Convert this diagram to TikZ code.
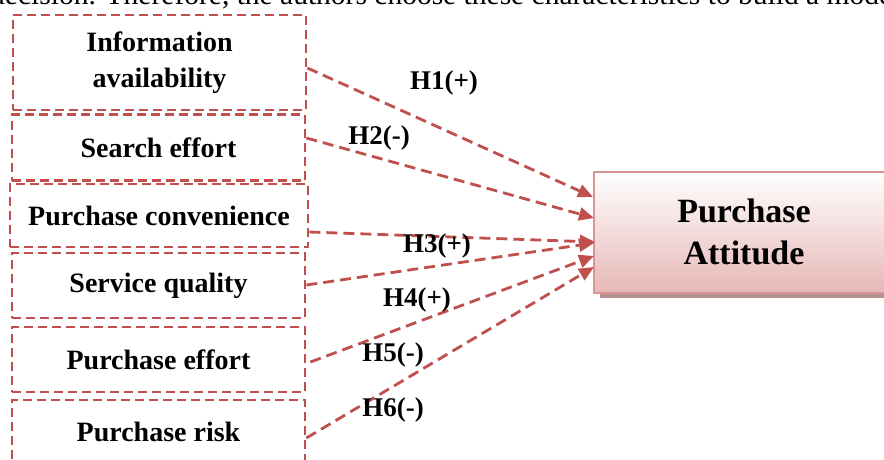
\documentclass[tikz,border=0pt]{standalone}
\usepackage{fontspec}
\setmainfont{Liberation Serif}
\usetikzlibrary{arrows.meta}
\definecolor{dred}{HTML}{C0504D}
\definecolor{pborder}{HTML}{D99594}
\definecolor{pbottom}{HTML}{E6B8B7}
\definecolor{pmid}{HTML}{F4E1E1}
\definecolor{pshadow}{HTML}{B39392}
\tikzset{
  varbox/.style={draw=dred, line width=2.8pt, dash pattern=on 9pt off 5pt,
    inner sep=0pt, align=center, font=\fontsize{28}{36}\selectfont\bfseries},
  hyparrow/.style={draw=dred, line width=2.8pt, dash pattern=on 11pt off 6pt,
    -{Triangle[length=15pt,width=13pt]}, fill=none},
  hlabel/.style={font=\fontsize{27}{32}\selectfont\bfseries, inner sep=0pt},
}
\begin{document}
\begin{tikzpicture}[x=1pt,y=-1pt]
\useasboundingbox (0,0) rectangle (884,459);
% cut-off text line at top
\node[anchor=base west, inner sep=0pt, font=\fontsize{29.5}{32}\selectfont] (toptext) at (-10,4)
  {decision. Therefore, the authors choose these characteristics to build a model};
% independent variables
\node[varbox, minimum width=293pt, minimum height=95pt] (ia) at (159.5,62.5) {Information\\availability};
\node[varbox, minimum width=293pt, minimum height=66pt] (se) at (158.5,147.5) {Search effort};
\node[varbox, minimum width=298pt, minimum height=63pt] (pc) at (159,215.5) {Purchase convenience};
\node[varbox, minimum width=293pt, minimum height=65pt] (sq) at (158.5,285.5) {Service quality};
\node[varbox, minimum width=293pt, minimum height=65pt] (pe) at (158.5,359.5) {Purchase effort};
\node[varbox, minimum width=293pt, minimum height=64pt] (pr) at (158.5,432) {Purchase risk};
% dependent variable
\fill[pshadow] (600,176) rectangle (895,298);
\shade[top color=white, middle color=pmid, bottom color=pbottom] (594,172) rectangle (890,293);
\draw[pborder, line width=2.8pt] (594,172) rectangle (890,293);
\node[inner sep=0pt, align=center, font=\fontsize{34}{42}\selectfont\bfseries] (pa) at (744,232) {Purchase\\Attitude};
% arrow targets
\coordinate (t1) at (593,197);
\coordinate (t2) at (594,218);
\coordinate (t3) at (595,242);
\coordinate (t4) at (594,243);
\coordinate (t5) at (594,256);
\coordinate (t6) at (594,267);
\draw[hyparrow] ([yshift=-5.5pt]ia.east) -- (t1);
\draw[hyparrow] ([yshift=9.5pt]se.east) -- (t2);
\draw[hyparrow] ([yshift=-16.5pt]pc.east) -- (t3);
\draw[hyparrow] ([yshift=0.5pt]sq.east) -- (t4);
\draw[hyparrow] ([xshift=4pt,yshift=-2.5pt]pe.east) -- (t5);
\draw[hyparrow] ([yshift=-6pt]pr.east) -- (t6);
% labels
\node[hlabel] (h1) at (444,83) {H1(+)};
\node[hlabel] (h2) at (379,138) {H2(-)};
\node[hlabel] (h3) at (437,246) {H3(+)};
\node[hlabel] (h4) at (417,300) {H4(+)};
\node[hlabel] (h5) at (393,355) {H5(-)};
\node[hlabel] (h6) at (393,410) {H6(-)};
\end{tikzpicture}
\end{document}
